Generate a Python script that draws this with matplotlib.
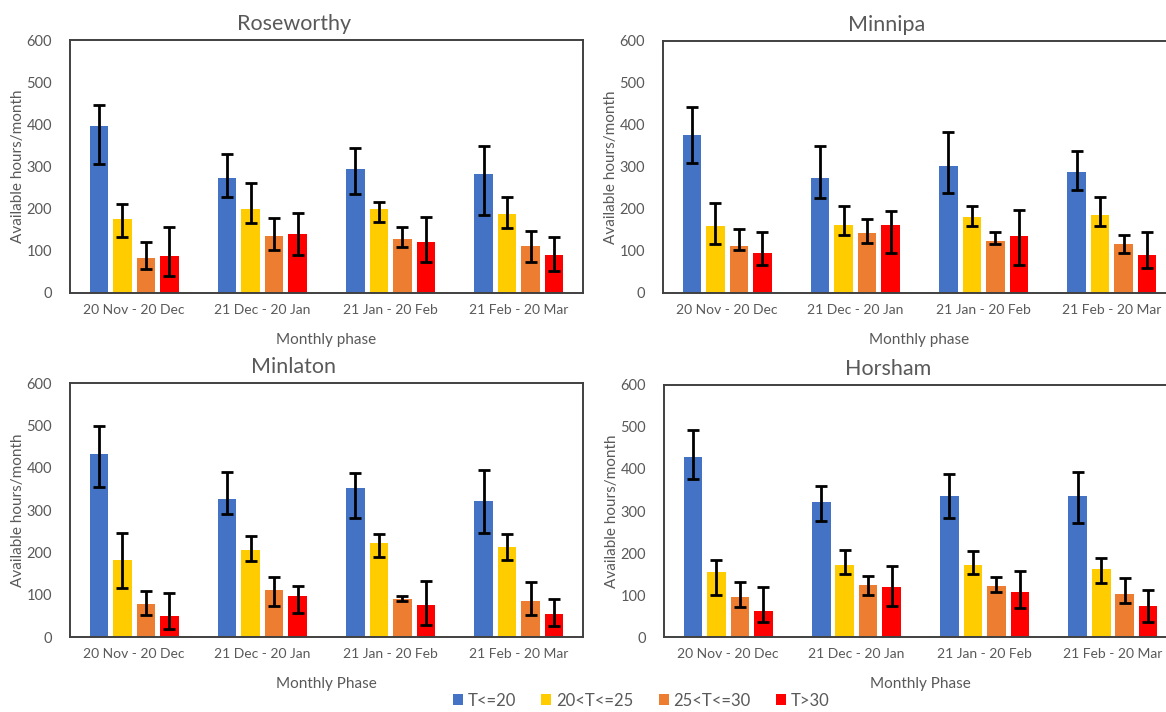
import numpy as np
import matplotlib.pyplot as plt

plt.rcParams['font.family'] = ['Lato', 'DejaVu Sans']

phases = ['20 Nov - 20 Dec', '21 Dec - 20 Jan', '21 Jan - 20 Feb', '21 Feb - 20 Mar']
series = ['T<=20', '20<T<=25', '25<T<=30', 'T>30']
colors = ['#4472C4', '#FFCC00', '#ED7D31', '#FF0000']

# rows = series, columns = monthly phase
rose_val = [[395, 272, 294, 283], [176, 199, 199, 188], [84, 135, 129, 111], [87, 140, 122, 91]]
rose_lo = [[305, 227, 234, 186], [132, 166, 168, 154], [57, 103, 109, 73], [41, 89, 74, 51]]
rose_hi = [[446, 329, 345, 349], [212, 260, 216, 227], [122, 177, 157, 146], [157, 189, 181, 132]]

minn_val = [[377, 274, 302, 287], [159, 163, 182, 185], [112, 142, 124, 117], [95, 162, 135, 91]]
minn_lo = [[310, 225, 239, 245], [116, 137, 159, 159], [102, 120, 117, 95], [66, 96, 66, 59]]
minn_hi = [[442, 351, 384, 338], [214, 206, 208, 229], [153, 176, 145, 139], [144, 196, 198, 145]]

minl_val = [[433, 326, 352, 322], [182, 205, 221, 212], [77, 111, 91, 85], [49, 96, 76, 54]]
minl_lo = [[355, 291, 282, 246], [117, 179, 189, 182], [51, 74, 84, 51], [20, 57, 28, 25]]
minl_hi = [[499, 390, 388, 395], [245, 238, 244, 244], [108, 142, 98, 129], [103, 121, 132, 89]]

hors_val = [[428, 321, 336, 336], [154, 172, 172, 163], [95, 123, 122, 102], [61, 120, 106, 73]]
hors_lo = [[376, 276, 283, 271], [101, 150, 151, 129], [71, 99, 106, 81], [35, 73, 69, 35]]
hors_hi = [[494, 359, 387, 394], [184, 208, 204, 188], [130, 145, 143, 141], [118, 168, 156, 111]]

grey = '#595959'


def panel(ax, title, xlabel, val, lo, hi):
    x = np.arange(len(phases))
    width = 0.145
    pitch = 0.183
    for i in range(len(series)):
        v = np.array(val[i])
        err = [v - np.array(lo[i]), np.array(hi[i]) - v]
        ax.bar(x + (i - 1.5) * pitch, v, width, color=colors[i], label=series[i], zorder=2)
        ax.errorbar(x + (i - 1.5) * pitch, v, yerr=err, fmt='none', ecolor='black',
                    elinewidth=2, capsize=4, capthick=2, zorder=3)
    ax.set_xlim(-0.5, len(phases) - 0.5)
    ax.set_ylim(0, 600)
    ax.set_yticks(range(0, 601, 100))
    ax.set_xticks(x)
    ax.set_xticklabels(phases)
    ax.tick_params(length=0, labelsize=10.5, labelcolor=grey, pad=8)
    ax.tick_params(axis='x', labelsize=10)
    ax.tick_params(axis='y', pad=13)
    for s in ax.spines.values():
        s.set_color('#404040')
        s.set_linewidth(1.4)
    # the title sits over the whole chart area, not only the plot box
    ax.set_title(title, fontsize=15.5, color=grey, pad=7, x=0.436)
    ax.set_xlabel(xlabel, fontsize=11, color=grey, labelpad=12)
    ax.set_ylabel('Available hours/month', fontsize=11, color=grey, labelpad=1)


fig = plt.figure(figsize=(11.66, 7.12), dpi=100)
ax1 = fig.add_axes([0.060, 0.5885, 0.440, 0.3553])
ax2 = fig.add_axes([0.5686, 0.5885, 0.440, 0.3540])
ax3 = fig.add_axes([0.060, 0.1053, 0.440, 0.3567])
ax4 = fig.add_axes([0.5695, 0.1053, 0.440, 0.3540])

panel(ax1, 'Roseworthy', 'Monthly phase', rose_val, rose_lo, rose_hi)
panel(ax2, 'Minnipa', 'Monthly phase', minn_val, minn_lo, minn_hi)
panel(ax3, 'Minlaton', 'Monthly Phase', minl_val, minl_lo, minl_hi)
panel(ax4, 'Horsham', 'Monthly Phase', hors_val, hors_lo, hors_hi)

handles, labels = ax1.get_legend_handles_labels()
fig.legend(handles, labels, loc='center', bbox_to_anchor=(0.55, 0.016), ncol=4,
           frameon=False, fontsize=12, labelcolor=grey, handlelength=0.6,
           handleheight=0.6, handletextpad=0.3, columnspacing=1.5)

fig.savefig('out.png', dpi=100)
